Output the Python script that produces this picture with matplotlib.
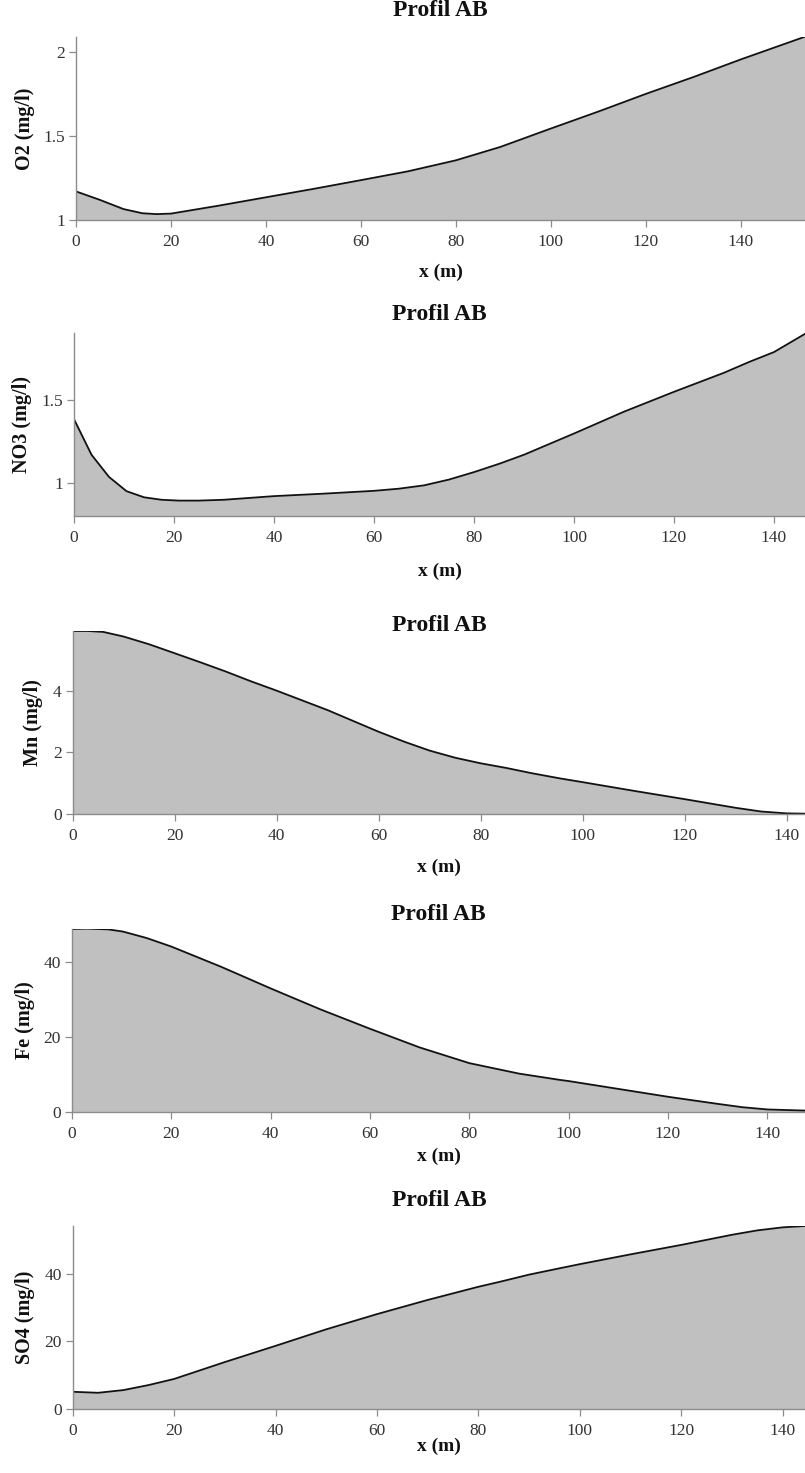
import matplotlib
matplotlib.use("Agg")
import matplotlib.pyplot as plt

plt.rcParams['font.family'] = ['Liberation Serif', 'DejaVu Serif']

# ---- data ----
o2_x = [0, 5, 10, 14, 17, 20, 30, 40, 50, 60, 70, 80, 89.3, 100, 110, 120, 130, 140, 150, 153.5]
o2_y = [1.17, 1.12, 1.065, 1.04, 1.035, 1.038, 1.085, 1.135, 1.185, 1.237, 1.29, 1.355, 1.434, 1.544, 1.645, 1.75, 1.85, 1.955, 2.055, 2.09]

no3_x = [0, 3.5, 7, 10.5, 14, 17.5, 21, 25, 30, 40, 50, 60, 65, 70, 75, 80, 85.2, 90, 100, 110, 120, 130, 135, 140, 146.2]
no3_y = [1.385, 1.17, 1.036, 0.95, 0.913, 0.898, 0.893, 0.893, 0.898, 0.92, 0.935, 0.952, 0.965, 0.985, 1.02, 1.065, 1.117, 1.17, 1.298, 1.43, 1.55, 1.665, 1.73, 1.79, 1.9]

mn_x = [0, 3, 6, 10, 15, 20, 25, 30, 35, 40, 50, 60, 65, 70, 75, 80, 85, 90, 95.6, 100, 110, 120, 130, 135, 140, 143.6]
mn_y = [5.93, 5.93, 5.9, 5.75, 5.5, 5.21, 4.92, 4.62, 4.3, 4.0, 3.37, 2.67, 2.35, 2.06, 1.83, 1.65, 1.5, 1.33, 1.16, 1.04, 0.76, 0.49, 0.21, 0.09, 0.03, 0.02]

fe_x = [0, 3, 7.3, 10.3, 15, 20, 30, 33.8, 40, 50, 60, 70, 80, 90, 98.3, 100, 110, 120, 130, 135, 140, 147.6]
fe_y = [48.9, 49.0, 48.8, 48.2, 46.5, 44.2, 38.8, 36.6, 33.0, 27.4, 22.2, 17.2, 13.0, 10.2, 8.5, 8.2, 6.1, 4.0, 2.1, 1.2, 0.6, 0.3]

so4_x = [0, 5, 10, 15, 20, 30, 40, 50, 60, 70, 80, 84.3, 90, 96.1, 100, 110, 120, 130, 135, 140, 144.4]
so4_y = [5.1, 4.8, 5.6, 7.1, 8.9, 13.9, 18.7, 23.6, 28.1, 32.3, 36.2, 37.7, 39.8, 41.7, 42.9, 45.8, 48.6, 51.6, 52.9, 53.8, 54.2]

ylabels = ['O2 (mg/l)', 'NO3 (mg/l)', 'Mn (mg/l)', 'Fe (mg/l)', 'SO4 (mg/l)']
title_text = 'Profil AB'
xlabel_text = 'x (m)'
xticks = [0, 20, 40, 60, 80, 100, 120, 140]

series = [
    (o2_x, o2_y, (1.0, 2.09), [1, 1.5, 2], ['1', '1.5', '2']),
    (no3_x, no3_y, (0.80, 1.907), [1, 1.5], ['1', '1.5']),
    (mn_x, mn_y, (0, 5.93), [0, 2, 4], ['0', '2', '4']),
    (fe_x, fe_y, (0, 48.9), [0, 20, 40], ['0', '20', '40']),
    (so4_x, so4_y, (0, 54.2), [0, 20, 40], ['0', '20', '40']),
]

# ---- layout (pixels) ----
W, H = 805, 1473
boxes = [  # left, right, top, bottom
    (76, 805, 36.7, 220),
    (74, 805, 332.7, 516),
    (72.7, 805, 631, 814.3),
    (72, 805, 929, 1111.7),
    (72.7, 805, 1226, 1409),
]
title_y = [11, 314, 626, 915, 1200]
xlab_y = [272, 571, 867, 1156, 1446]
ylab_x = [25, 22, 33, 25, 25]

fig = plt.figure(figsize=(W / 100, H / 100), dpi=100)
fig.patch.set_facecolor('white')

tick_color = '#333333'
spine_color = '#8c8c8c'

for i, ((xs, ys, ylim, yt, ytl), (l, r, t, b)) in enumerate(zip(series, boxes)):
    ax = fig.add_axes([l / W, 1 - b / H, (r - l) / W, (b - t) / H])
    ax.fill_between(xs, ys, ylim[0], color='#c0c0c0', linewidth=0)
    ax.plot(xs, ys, color='#111111', linewidth=1.3)
    ax.set_xlim(0, xs[-1])
    ax.set_ylim(*ylim)
    ax.set_xticks(xticks)
    ax.set_xticklabels([str(v) for v in xticks])
    ax.set_yticks(yt)
    ax.set_yticklabels(ytl)
    for s in ['top', 'right']:
        ax.spines[s].set_visible(False)
    for s in ['left', 'bottom']:
        ax.spines[s].set_color(spine_color)
        ax.spines[s].set_linewidth(1.0)
        ax.spines[s].set_zorder(3)
    ax.tick_params(axis='x', pad=5)
    ax.tick_params(axis='y', pad=3)
    ax.tick_params(axis='both', direction='out', length=5, width=0.9, color=spine_color,
                   labelcolor=tick_color, labelsize=12.5)
    ax.set_facecolor('white')
    cx = (l + r) / 2 / W
    fig.text(cx, 1 - title_y[i] / H, title_text, ha='center', va='center',
             fontsize=17, fontweight='bold', color='#111111')
    fig.text(cx, 1 - xlab_y[i] / H, xlabel_text, ha='center', va='center',
             fontsize=14, fontweight='bold', color='#111111')
    fig.text(ylab_x[i] / W, 1 - (t + b) / 2 / H, ylabels[i], ha='center', va='center',
             rotation=90, fontsize=14.5, fontweight='bold', color='#111111')

fig.savefig('out.png', dpi=100, facecolor='white')
